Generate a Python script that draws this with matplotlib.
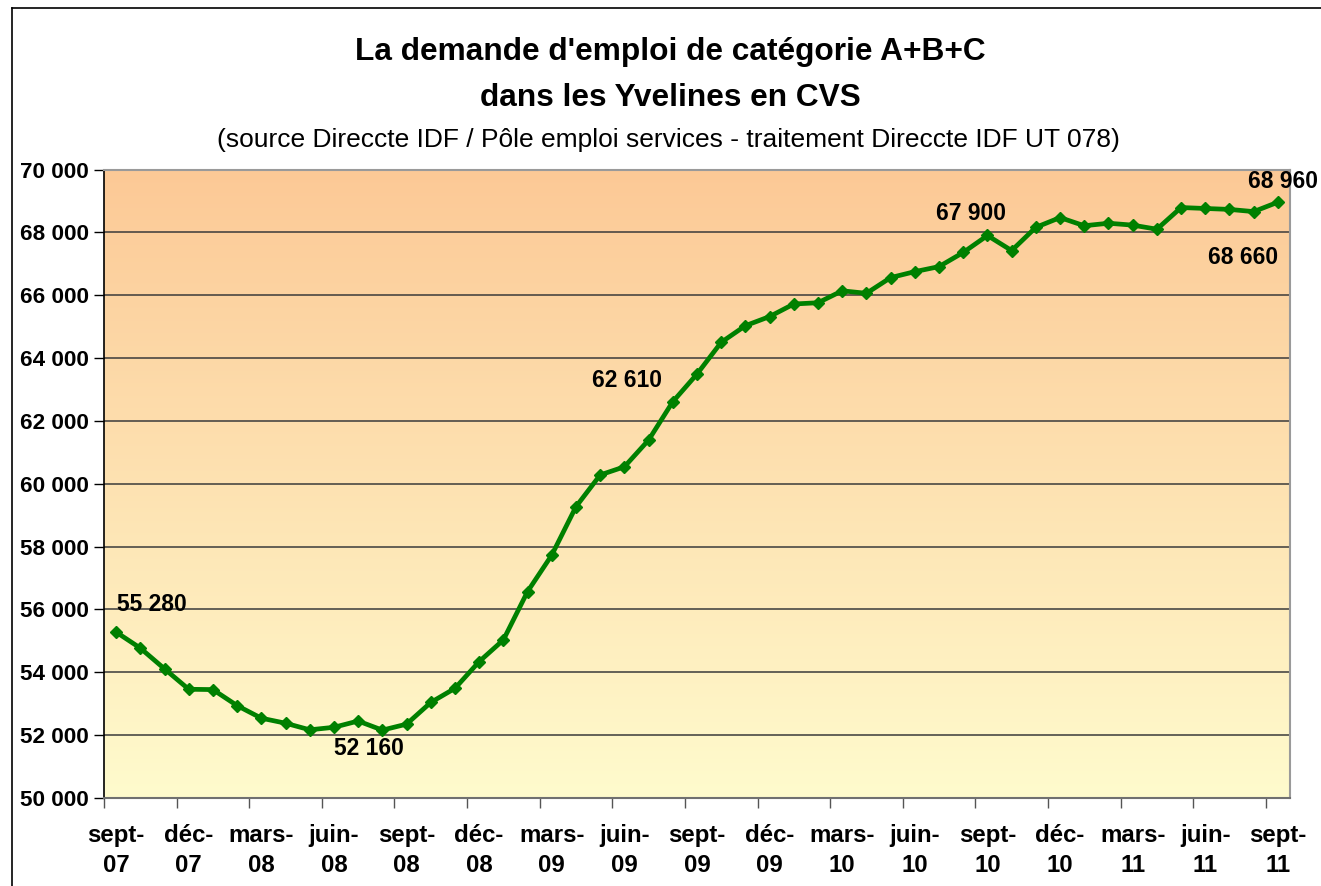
import numpy as np
import matplotlib
matplotlib.use("Agg")
import matplotlib.pyplot as plt
from matplotlib.colors import LinearSegmentedColormap
from matplotlib.lines import Line2D

plt.rcParams['font.family'] = ['Liberation Sans', 'DejaVu Sans']

# ---- data ----
values = [55280, 54770, 54110, 53460, 53450, 52940, 52540, 52380, 52170, 52250,
          52450, 52160, 52350, 53040, 53490, 54340, 55030, 56570, 57730, 59270,
          60280, 60540, 61390, 62610, 63490, 64500, 65030, 65320, 65720, 65760,
          66140, 66060, 66560, 66750, 66910, 67360, 67900, 67420, 68160, 68470,
          68210, 68290, 68230, 68100, 68790, 68760, 68730, 68660, 68960]
tick_labels = ["sept-\n07", "déc-\n07", "mars-\n08", "juin-\n08", "sept-\n08",
               "déc-\n08", "mars-\n09", "juin-\n09", "sept-\n09", "déc-\n09",
               "mars-\n10", "juin-\n10", "sept-\n10", "déc-\n10", "mars-\n11",
               "juin-\n11", "sept-\n11"]
y_ticks = [50000, 52000, 54000, 56000, 58000, 60000, 62000, 64000, 66000, 68000, 70000]
# labelled points: (index, offset in points)
labelled = {0: (26, 20), 11: (-10, -13), 23: (-33, 15), 36: (-12, 16), 47: (-8, -33), 48: (4, 15)}

title1 = "La demande d'emploi de catégorie A+B+C"
title2 = "dans les Yvelines en CVS"
subtitle = "(source Direccte IDF / Pôle emploi services - traitement Direccte IDF UT 078)"

W, H = 1321, 886
fig = plt.figure(figsize=(W / 100, H / 100), dpi=100)
fig.patch.set_facecolor('white')

ax = fig.add_axes([104 / W, 1 - 798 / H, (1290 - 104) / W, (798 - 169.5) / H])

n = len(values)
x = np.arange(n)
ax.set_xlim(-0.5, n - 0.5)
ax.set_ylim(50000, 70000)

# gradient background
cmap = LinearSegmentedColormap.from_list('bg', [(255 / 255, 251 / 255, 205 / 255),
                                                (252 / 255, 201 / 255, 150 / 255)])
grad = np.linspace(0, 1, 256).reshape(-1, 1)
ax.imshow(grad, cmap=cmap, aspect='auto', origin='lower',
          extent=[-0.5, n - 0.5, 50000, 70000], zorder=0)

# grid
for yv in y_ticks[1:-1]:
    ax.axhline(yv, color='#3a3a3a', lw=1.1, zorder=1)

ax.plot(x, values, color='#008000', lw=3.4, marker='D', markersize=6.5,
        markerfacecolor='#008000', markeredgecolor='#008000', zorder=3,
        solid_joinstyle='round')

for i, (dx, dy) in labelled.items():
    ax.annotate(f"{values[i]:,}".replace(",", " "), (x[i], values[i]),
                xytext=(dx, dy), textcoords='offset points', ha='center', va='center',
                fontsize=16.5, fontweight='bold', color='black', zorder=4,
                annotation_clip=False)

ax.set_yticks(y_ticks)
ax.set_yticklabels([f"{v:,}".replace(",", " ") for v in y_ticks],
                   fontsize=16.2, fontweight='bold')
ax.set_xticks(x[::3])
ax.set_xticklabels(tick_labels, fontsize=17.3, fontweight='bold', linespacing=1.38)
ax.tick_params(axis='x', which='major', length=0, pad=19)
ax.set_xticks(np.arange(-0.5, n, 3), minor=True)
ax.tick_params(axis='x', which='minor', length=7, width=1, color='#555555')
ax.tick_params(axis='y', length=7, width=1, pad=4)

for s in ['top', 'right']:
    ax.spines[s].set_color('#9a9a9a')
    ax.spines[s].set_linewidth(1.5)
ax.spines['left'].set_color('black')
ax.spines['left'].set_linewidth(1.2)
ax.spines['bottom'].set_color('#707070')
ax.spines['bottom'].set_linewidth(1.5)

# titles
fig.text(670 / W, 1 - 52 / H, title1, ha='center', va='center', fontsize=22.8, fontweight='bold')
fig.text(670 / W, 1 - 98 / H, title2, ha='center', va='center', fontsize=22.8, fontweight='bold')
fig.text(668 / W, 1 - 140 / H, subtitle, ha='center', va='center', fontsize=19)

# chart area border (left and top visible)
fig.add_artist(Line2D([12 / W, 12 / W], [0, 1 - 8 / H], color='black', lw=1.2,
                      transform=fig.transFigure))
fig.add_artist(Line2D([12 / W, 1], [1 - 8 / H, 1 - 8 / H], color='black', lw=1.2,
                      transform=fig.transFigure))

fig.savefig('out.png', dpi=100)
